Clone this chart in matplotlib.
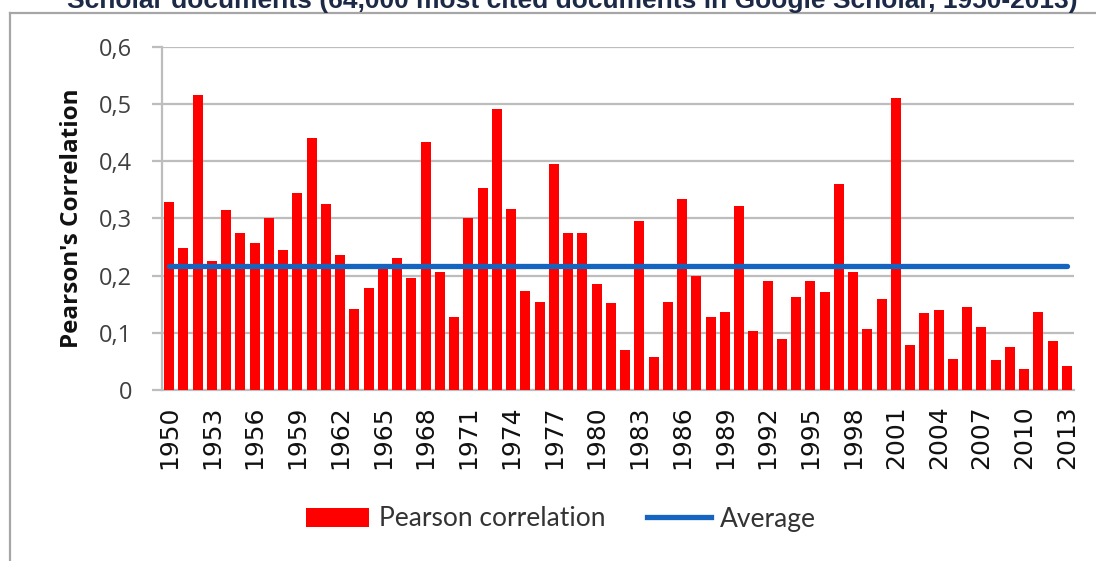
import matplotlib
matplotlib.use("Agg")
import matplotlib.pyplot as plt
from matplotlib.lines import Line2D
from matplotlib.patches import Patch

years = list(range(1950, 2014))
pearson = [0.329, 0.248, 0.516, 0.226, 0.314, 0.275, 0.258, 0.300, 0.245, 0.344,
           0.441, 0.325, 0.237, 0.142, 0.178, 0.214, 0.231, 0.196, 0.433, 0.206,
           0.127, 0.300, 0.354, 0.492, 0.316, 0.173, 0.154, 0.395, 0.275, 0.275,
           0.185, 0.152, 0.070, 0.296, 0.057, 0.154, 0.334, 0.199, 0.127, 0.136,
           0.322, 0.104, 0.191, 0.089, 0.163, 0.191, 0.171, 0.360, 0.206, 0.106,
           0.160, 0.510, 0.079, 0.134, 0.140, 0.055, 0.145, 0.110, 0.052, 0.076,
           0.037, 0.137, 0.086, 0.042]
average = 0.217
yticks = [0, 0.1, 0.2, 0.3, 0.4, 0.5, 0.6]
ytick_labels = ["0", "0,1", "0,2", "0,3", "0,4", "0,5", "0,6"]
title = "Scholar documents (64,000 most cited documents in Google Scholar, 1950-2013)"

W, H = 1096, 561
fig = plt.figure(figsize=(W / 100, H / 100), dpi=100)
fig.patch.set_facecolor("white")

L, R, T, B = 162, 1074, 47, 390
ax = fig.add_axes([L / W, 1 - B / H, (R - L) / W, (B - T) / H])

x = list(range(len(years)))
ax.bar(x, pearson, width=0.7, color="#ff0000", zorder=3)
ax.plot([x[0], x[-1]], [average, average], color="#1565c0", lw=3.8,
        solid_capstyle="round", zorder=4)

grid_c = "#bdbdbd"
ax.set_xlim(-0.5, len(years) - 0.5)
ax.set_ylim(0, 0.6)
ax.set_yticks(yticks)
ax.set_yticklabels(ytick_labels, fontsize=17, color="#404040", family="Open Sans")
ax.yaxis.grid(True, color=grid_c, lw=1.6, zorder=0)
ax.tick_params(axis="y", length=7.5, width=1.6, color=grid_c, pad=14)
ax.set_xticks(x[::3])
ax.set_xticklabels([str(y) for y in years[::3]], rotation=90, fontsize=18,
                   color="#111111", family="DejaVu Sans")
ax.tick_params(axis="x", length=0, pad=11)
for s in ["top", "right"]:
    ax.spines[s].set_visible(False)
ax.spines["left"].set_color(grid_c)
ax.spines["left"].set_linewidth(1.6)
ax.spines["bottom"].set_color(grid_c)
ax.spines["bottom"].set_linewidth(1.6)

ax.set_ylabel("Pearson's Correlation", fontsize=17.5, fontweight="bold",
              family="Open Sans", color="#111111", labelpad=11)

handles = [Patch(facecolor="#ff0000", edgecolor="none", label="Pearson correlation"),
           Line2D([0], [0], color="#1565c0", lw=3.8, label="Average")]
fig.legend(handles=handles, loc="center", bbox_to_anchor=(561 / W, 1 - 519 / H),
           ncol=2, frameon=False, handlelength=2.4, handleheight=0.75,
           handletextpad=0.35, columnspacing=1.6,
           prop={"family": "Lato", "size": 19}, labelcolor="#333333")

fig.text(572 / W, 1 - 8 / H, title, ha="center", va="baseline", fontsize=19,
         fontweight="bold", family="Liberation Sans", color="#1c2a48")

frame_c = "#a6a6a6"
fig.add_artist(Line2D([10 / W, 1], [1 - 13 / H, 1 - 13 / H], color=frame_c, lw=1.6,
                      transform=fig.transFigure))
fig.add_artist(Line2D([10 / W, 10 / W], [0, 1 - 13 / H], color=frame_c, lw=1.6,
                      transform=fig.transFigure))

fig.savefig("out.png", dpi=100)
